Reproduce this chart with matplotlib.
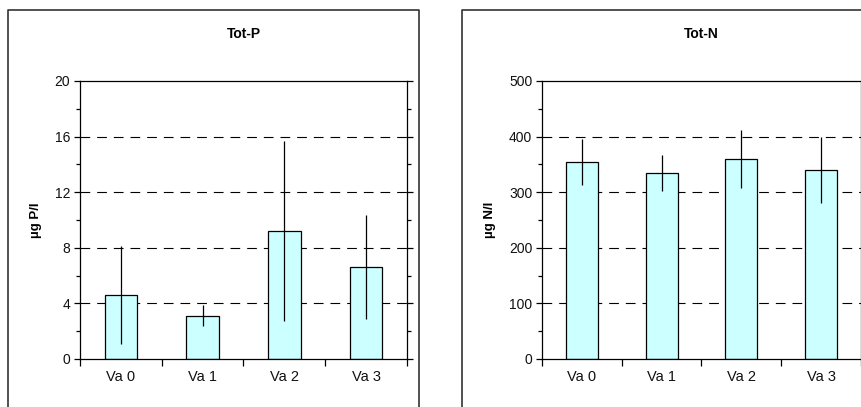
import matplotlib
matplotlib.use("Agg")
import matplotlib.pyplot as plt
from matplotlib.lines import Line2D
from matplotlib.ticker import MultipleLocator

plt.rcParams["font.family"] = ["Liberation Sans", "DejaVu Sans"]
plt.rcParams["lines.scale_dashes"] = False

CATEGORIES = ["Va 0", "Va 1", "Va 2", "Va 3"]

TOTP_MEAN = [4.6, 3.1, 9.2, 6.6]
TOTP_ERR = [3.55, 0.75, 6.5, 3.75]

TOTN_MEAN = [354, 335, 359, 340]
TOTN_ERR = [41, 32, 52, 60]

W, H = 862, 407
fig = plt.figure(figsize=(W / 100, H / 100), dpi=100)


def px_box(x0, y0, x1, y1):
    # pixel box (top-left origin) -> figure fraction rect
    return [x0 / W, 1 - y1 / H, (x1 - x0) / W, (y1 - y0) / H]


def panel(ax, means, errs, title, ylabel, ymax, major, minor):
    x = range(len(CATEGORIES))
    for v in range(major, ymax, major):
        ax.axhline(v, color="black", lw=0.8, ls=(0, (7, 5)), zorder=1)
    ax.bar(x, means, width=0.4, color="#CCFFFF", edgecolor="black",
           linewidth=0.9, zorder=2)
    ax.errorbar(x, means, yerr=errs, fmt="none", ecolor="black",
                elinewidth=0.9, capsize=0, zorder=3)
    ax.set_xlim(-0.5, len(CATEGORIES) - 0.5)
    ax.set_ylim(0, ymax)
    ax.yaxis.set_major_locator(MultipleLocator(major))
    ax.yaxis.set_minor_locator(MultipleLocator(minor))
    ax.set_xticks([i - 0.5 for i in range(len(CATEGORIES) + 1)])
    ax.set_xticklabels([])
    ax.set_xticks(list(x), minor=True)
    ax.set_xticklabels(CATEGORIES, minor=True, fontsize=10.5,
                       color="#111111")
    ax.tick_params(axis="x", which="major", direction="out", length=5,
                   width=0.9)
    ax.tick_params(axis="x", which="minor", length=0, pad=8)
    ax.tick_params(axis="y", which="major", direction="out", length=4,
                   width=0.9, labelsize=10, pad=3, right=True,
                   labelcolor="#111111")
    ax.tick_params(axis="y", which="minor", direction="out", length=3,
                   width=0.9, right=True)
    for s in ax.spines.values():
        s.set_linewidth(0.9)
    ax.set_title(title, fontsize=10, fontweight="bold", pad=31)
    ax.set_ylabel(ylabel, fontsize=9.5, fontweight="bold", labelpad=9)


ax1 = fig.add_axes(px_box(80, 81, 407, 359))
panel(ax1, TOTP_MEAN, TOTP_ERR, "Tot-P", "µg P/l", 20, 4, 2)

ax2 = fig.add_axes(px_box(542, 81, 861, 359))
panel(ax2, TOTN_MEAN, TOTN_ERR, "Tot-N", "µg N/l", 500, 100, 50)

# outer chart frames
fc = "#333333"
fig.add_artist(Line2D([8 / W, 8 / W, 419 / W, 419 / W],
                      [0, 1 - 10 / H, 1 - 10 / H, 0],
                      color=fc, lw=1.2, transform=fig.transFigure))
fig.add_artist(Line2D([462 / W, 462 / W, 1], [0, 1 - 10 / H, 1 - 10 / H],
                      color=fc, lw=1.2, transform=fig.transFigure))

fig.savefig("out.png", dpi=100)
